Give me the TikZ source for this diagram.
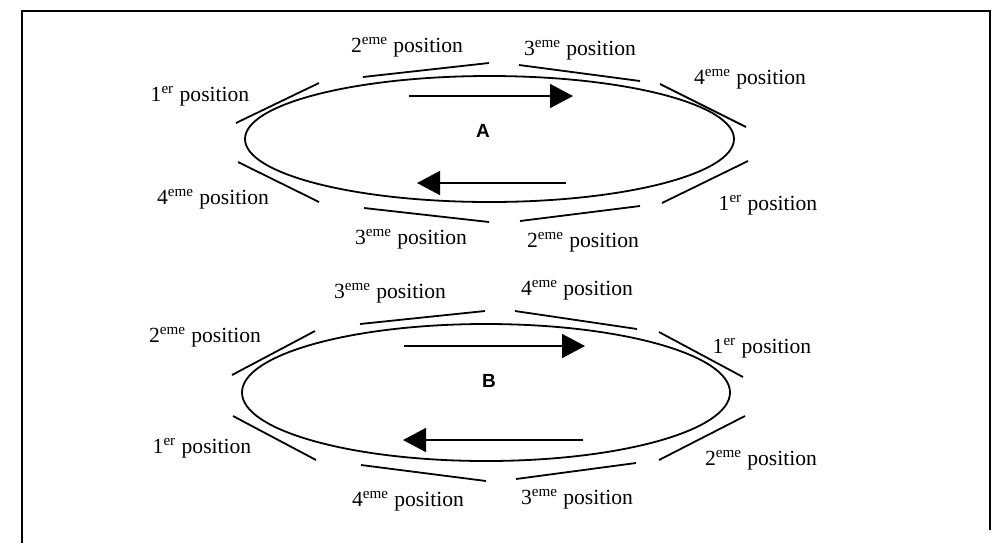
\documentclass[tikz,border=0pt]{standalone}
\usepackage{fontspec}
\setmainfont{Liberation Serif}
\newfontfamily\lsans{Liberation Sans}
\usetikzlibrary{shapes.geometric,arrows.meta}
\begin{document}
\begin{tikzpicture}[x=0.5pt,y=-0.5pt,
  lbl/.style={font=\fontsize{10.8}{13}\selectfont, inner sep=0pt},
  big/.style={font=\lsans\bfseries\fontsize{9.5}{11}\selectfont, inner sep=0pt},
  ring/.style={draw, ellipse, line width=0.9pt, inner sep=0pt},
  tan/.style={line width=0.9pt},
  flow/.style={line width=0.8pt, -{Triangle[length=11.5pt,width=12pt]}},
  frame/.style={line width=0.9pt}]
\useasboundingbox (0,0) rectangle (997,543);
\draw[frame] (22,543) -- (22,11) -- (990,11) -- (990,530);

% ---------- A ----------
\node[ring, minimum width=244.5pt, minimum height=63pt] (ellA) at (489.5,139) {};
\draw[tan] (236,123) -- (319,83);
\draw[tan] (363,77) -- (489,63);
\draw[tan] (519,65) -- (640,81);
\draw[tan] (660,84) -- (746,127);
\draw[tan] (748,161) -- (662,203);
\draw[tan] (640,206) -- (520,221);
\draw[tan] (364,208) -- (489,222);
\draw[tan] (238,162) -- (319,202);
\coordinate (a1s) at (409,96); \coordinate (a1e) at (573,96);
\coordinate (a2s) at (566,183); \coordinate (a2e) at (417,183);
\draw[flow] (a1s) -- (a1e);
\draw[flow] (a2s) -- (a2e);
\node[big] (labA) at (483,131) {A};
\node[lbl] (A1) at (200,96) {1\textsuperscript{er} position};
\node[lbl] (A2) at (407,47) {2\textsuperscript{eme} position};
\node[lbl] (A3) at (580,50) {3\textsuperscript{eme} position};
\node[lbl] (A4) at (750,79) {4\textsuperscript{eme} position};
\node[lbl] (A5) at (768,205) {1\textsuperscript{er} position};
\node[lbl] (A6) at (583,242) {2\textsuperscript{eme} position};
\node[lbl] (A7) at (411,239) {3\textsuperscript{eme} position};
\node[lbl] (A8) at (213,199) {4\textsuperscript{eme} position};

% ---------- B ----------
\node[ring, minimum width=244pt, minimum height=68.5pt] (ellB) at (486,392.5) {};
\draw[tan] (232,375) -- (315,331);
\draw[tan] (360,324) -- (485,311);
\draw[tan] (515,311) -- (637,329);
\draw[tan] (659,332) -- (743,377);
\draw[tan] (745,416) -- (659,460);
\draw[tan] (636,463) -- (516,479);
\draw[tan] (361,465) -- (486,481);
\draw[tan] (233,416) -- (316,460);
\coordinate (b1s) at (404,346); \coordinate (b1e) at (585,346);
\coordinate (b2s) at (583,440); \coordinate (b2e) at (403,440);
\draw[flow] (b1s) -- (b1e);
\draw[flow] (b2s) -- (b2e);
\node[big] (labB) at (489,381) {B};
\node[lbl] (B1) at (390,293) {3\textsuperscript{eme} position};
\node[lbl] (B2) at (205,337) {2\textsuperscript{eme} position};
\node[lbl] (B3) at (577,290) {4\textsuperscript{eme} position};
\node[lbl] (B4) at (762,348) {1\textsuperscript{er} position};
\node[lbl] (B5) at (761,460) {2\textsuperscript{eme} position};
\node[lbl] (B6) at (577,499) {3\textsuperscript{eme} position};
\node[lbl] (B7) at (408,501) {4\textsuperscript{eme} position};
\node[lbl] (B8) at (202,448) {1\textsuperscript{er} position};
\end{tikzpicture}
\end{document}
